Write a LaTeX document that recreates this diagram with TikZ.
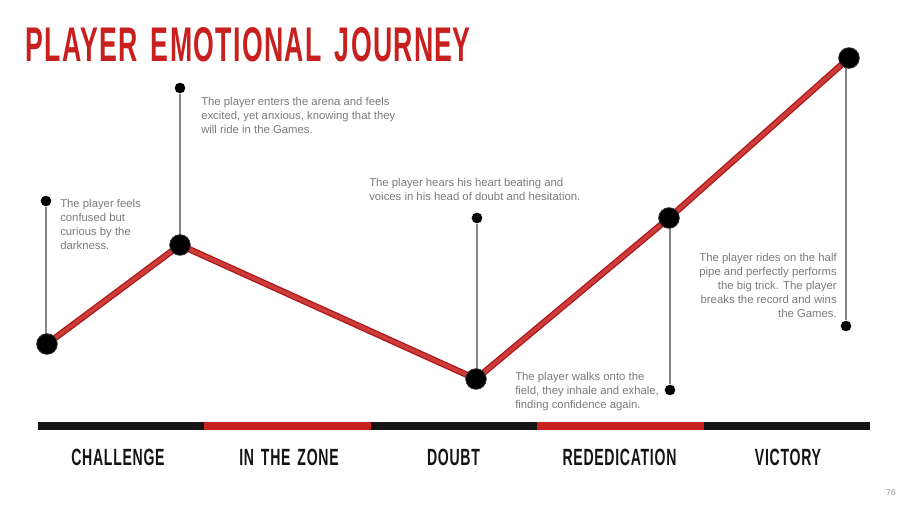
\documentclass[tikz,border=0pt]{standalone}
\usepackage{fontspec}
\setmainfont{Liberation Sans}
\newfontfamily\spacedfont[LetterSpace=5,WordSpace=1.5]{Liberation Sans}
\usepackage{graphicx}
\definecolor{titlered}{HTML}{C8201E}
\definecolor{pathred}{HTML}{CC3C38}
\definecolor{pathedge}{HTML}{AE1519}
\definecolor{notegray}{HTML}{7A7A7A}
\definecolor{stemgray}{HTML}{858585}
\definecolor{barblack}{HTML}{141414}
\begin{document}
\begin{tikzpicture}[x=0.75pt,y=-0.75pt,
  bigdot/.style={circle,fill=black,draw=black!80,line width=0.6pt,inner sep=0pt,minimum size=15.5pt},
  smalldot/.style={circle,fill=black,inner sep=0pt,minimum size=8pt},
  stem/.style={draw=stemgray,line width=1pt},
  note/.style={font=\fontsize{8.5}{10.4}\selectfont,text=notegray,inner sep=0pt},
  stage/.style={font=\spacedfont\bfseries\fontsize{17.6}{18}\selectfont,text=barblack,xscale=0.6,transform shape,inner sep=0pt},
  barseg/.style={line width=5.5pt}]
\useasboundingbox (0,0) rectangle (907,510);

% title
\node[anchor=base west,inner sep=0pt,text=titlered] (title) at (25,62)
  {\resizebox{334pt}{25.5pt}{\spacedfont\bfseries PLAYER EMOTIONAL JOURNE\hbox{Y}}};

% journey points
\coordinate (p1) at (47,344);
\coordinate (p2) at (180,245);
\coordinate (p3) at (476,379);
\coordinate (p4) at (669,218);
\coordinate (p5) at (849,58);

% stems ending in small dots
\node[smalldot] (s1) at (46,201) {};
\node[smalldot] (s2) at (180,88) {};
\node[smalldot] (s3) at (477,218) {};
\node[smalldot] (s4) at (670,390) {};
\node[smalldot] (s5) at (846,326) {};
\draw[stem] (s1) -- (46,344);
\draw[stem] (s2) -- (p2);
\draw[stem] (s3) -- (477,379);
\draw[stem] (s4) -- (670,218);
\draw[stem] (s5) -- (846,58);

% the journey line
\draw[pathedge,line width=4.8pt,line join=round] (p1) -- (p2) -- (p3) -- (p4) -- (p5);
\draw[pathred,line width=2.9pt,line join=round] (p1) -- (p2) -- (p3) -- (p4) -- (p5);

\node[bigdot] (d1) at (p1) {};
\node[bigdot] (d2) at (p2) {};
\node[bigdot] (d3) at (p3) {};
\node[bigdot] (d4) at (p4) {};
\node[bigdot] (d5) at (p5) {};

% notes
\node[note,anchor=north west,align=left] (n1) at (60,199.5)
  {The player feels\\confused but\\curious by the\\darkness.};
\node[note,anchor=north west,align=left] (n2) at (201,97.5)
  {The player enters the arena and feels\\excited, yet anxious, knowing that they\\will ride in the Games.};
\node[note,anchor=north west,align=left] (n3) at (369,178.5)
  {The player hears his heart beating and\\voices in his head of doubt and hesitation.};
\node[note,anchor=north west,align=left] (n4) at (515,372.5)
  {The player walks onto the\\field, they inhale and exhale,\\finding confidence again.};
\node[note,anchor=north east,align=right] (n5) at (837,253.5)
  {The player rides on the half\\pipe and perfectly performs\\the big trick. The player\\breaks the record and wins\\the Games.};

% stage bar
\draw[barseg,barblack] (38,426) -- (204.4,426);
\draw[barseg,titlered] (204.4,426) -- (370.8,426);
\draw[barseg,barblack] (370.8,426) -- (537.2,426);
\draw[barseg,titlered] (537.2,426) -- (703.6,426);
\draw[barseg,barblack] (703.6,426) -- (870,426);

\node[stage,anchor=base] (c1) at (118,465) {CHALLENGE};
\node[stage,anchor=base] (c2) at (289,465) {IN THE ZONE};
\node[stage,anchor=base] (c3) at (453.5,465) {DOUBT};
\node[stage,anchor=base] (c4) at (619.5,465) {REDEDICATION};
\node[stage,anchor=base] (c5) at (788,465) {VICTORY};

% page number
\node[font=\fontsize{6.5}{7}\selectfont,text=notegray!80,inner sep=0pt] (pg) at (891,493) {76};
\end{tikzpicture}
\end{document}
